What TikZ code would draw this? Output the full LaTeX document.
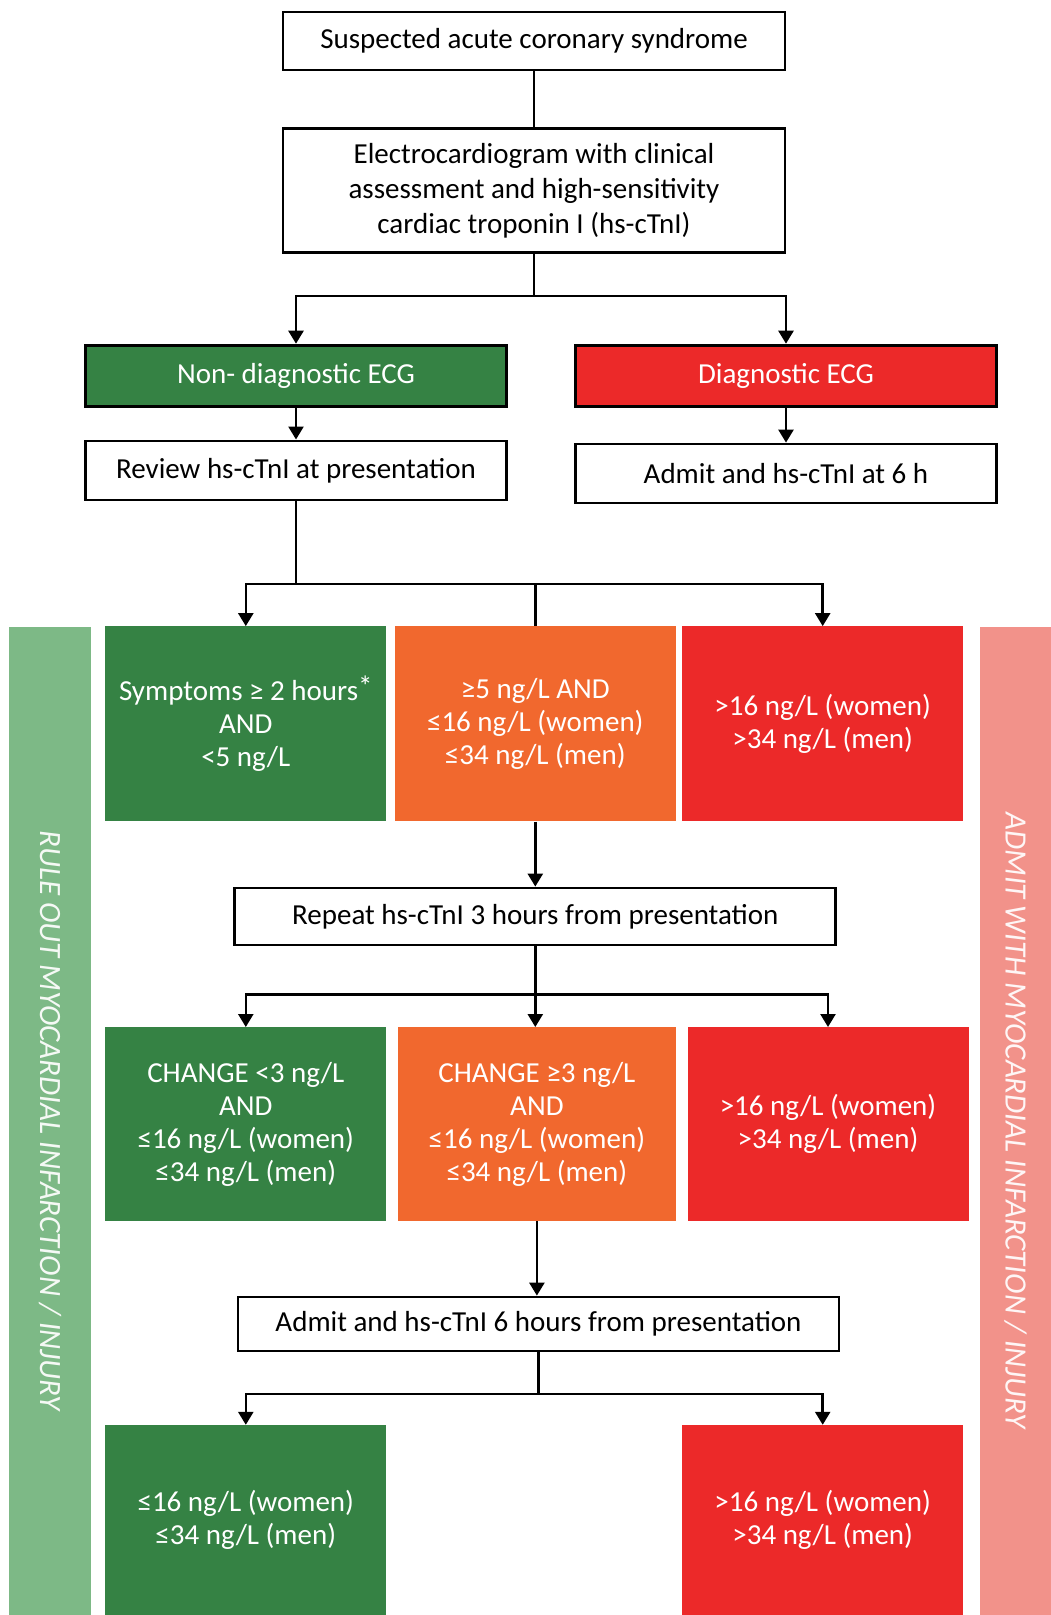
\documentclass[tikz,border=0pt]{standalone}
\usepackage{fontspec}
\setmainfont{Carlito}
\usetikzlibrary{arrows.meta}
\definecolor{dgreen}{RGB}{53,130,68}
\definecolor{orangeC}{RGB}{241,104,46}
\definecolor{redC}{RGB}{236,41,41}
\definecolor{lgreen}{RGB}{125,185,134}
\definecolor{pinkC}{RGB}{242,146,138}
\begin{document}
\begin{tikzpicture}[x=1pt,y=-1pt,
  wbox/.style={draw=black,line width=2.8pt,fill=white,align=center,inner sep=0pt,
    font=\fontsize{29}{35}\selectfont},
  hbox/.style={draw=black,line width=2.8pt,fill=#1,text=white,align=center,inner sep=0pt,
    font=\fontsize{29}{35}\selectfont,minimum width=421pt,minimum height=61pt},
  cbox/.style={fill=#1,text=white,align=center,inner sep=0pt,
    font=\fontsize{29}{33}\selectfont,minimum width=281pt,minimum height=195pt},
  sidebar/.style={fill=#1,text=white!92!#1,rotate=-90,inner sep=0pt,
    font=\fontsize{31}{36}\selectfont\itshape},
  ln/.style={line width=2.5pt},
  arr/.style={line width=2.5pt,-{Triangle[width=15pt,length=13pt]}}]
\useasboundingbox (0,0) rectangle (1051,1615);

% side bars
\node[sidebar=lgreen,minimum width=988.5pt,minimum height=81.4pt] (sbl) at (50,1120.75)
  {RULE OUT MYOCARDIAL INFARCTION / INJURY};
\node[sidebar=pinkC,minimum width=988.5pt,minimum height=71pt] (sbr) at (1015.5,1120.75)
  {ADMIT WITH MYOCARDIAL INFARCTION / INJURY};

% top boxes
\node[wbox,minimum width=502pt,minimum height=58pt] (b1) at (534,41)
  {Suspected acute coronary syndrome};
\node[wbox,minimum width=502pt,minimum height=124pt] (b2) at (534,190.6)
  {Electrocardiogram with clinical\\assessment and high-sensitivity\\cardiac troponin I (hs-cTnI)};
\node[hbox=dgreen] (nd) at (296,375.6) {Non- diagnostic ECG};
\node[hbox=redC] (dg) at (786,375.6) {Diagnostic ECG};
\node[wbox,minimum width=421pt,minimum height=59pt] (rv) at (296,470.4)
  {Review hs-cTnI at presentation};
\node[wbox,minimum width=421pt,minimum height=59pt] (ad) at (786,473.5)
  {Admit and hs-cTnI at 6 h};

% row 1
\node[cbox=dgreen] (g1) at (245.8,723.8) {Symptoms ≥ 2 hours\raisebox{0.15em}{*}\\AND\\<5 ng/L};
\node[cbox=orangeC] (o1) at (535.3,723.8) {≥5 ng/L AND\\≤16 ng/L (women)\\≤34 ng/L (men)};
\node[cbox=redC] (r1) at (822.7,723.8) {>16 ng/L (women)\\>34 ng/L (men)};

\node[wbox,minimum width=601pt,minimum height=57pt] (rp) at (535.3,916.5)
  {Repeat hs-cTnI 3 hours from presentation};

% row 2
\node[cbox=dgreen,minimum height=194pt] (g2) at (245.8,1124.2)
  {CHANGE <3 ng/L\\AND\\≤16 ng/L (women)\\≤34 ng/L (men)};
\node[cbox=orangeC,minimum width=278pt,minimum height=194pt] (o2) at (536.9,1124.2)
  {CHANGE ≥3 ng/L\\AND\\≤16 ng/L (women)\\≤34 ng/L (men)};
\node[cbox=redC,minimum height=194pt] (r2) at (828,1124.2) {>16 ng/L (women)\\>34 ng/L (men)};

\node[wbox,minimum width=601pt,minimum height=54pt] (adm) at (538.5,1324)
  {Admit and hs-cTnI 6 hours from presentation};

% row 3
\node[cbox=dgreen,minimum height=190pt] (g3) at (245.8,1520) {≤16 ng/L (women)\\≤34 ng/L (men)};
\node[cbox=redC,minimum height=190pt] (r3) at (822.7,1520) {>16 ng/L (women)\\>34 ng/L (men)};

% junctions
\coordinate (j1) at (534,296);
\coordinate (j2) at (296,584.2);
\coordinate (j2m) at (535.3,584.2);
\coordinate (j3) at (535.3,994.3);
\coordinate (j4) at (538.5,1394.1);

% connectors
\draw[ln] (b1) -- (b2);
\draw[ln] (b2) -- (j1);
\draw[arr] (j1) -| (nd);
\draw[arr] (j1) -| (dg);
\draw[arr] (nd) -- (rv);
\draw[arr] (dg) -- (ad);
\draw[ln] (rv) -- (j2);
\draw[arr] (j2) -| (g1);
\draw[arr] (j2) -| (r1);
\draw[ln] (j2m) -- (o1);
\draw[arr] (o1) -- (rp);
\draw[ln] (rp) -- (j3);
\draw[arr] (j3) -| (g2);
\draw[arr] (j3) -| (r2);
\draw[arr] (j3) -- (j3 |- o2.north);
\draw[arr] (o2.south) -- (o2.south |- adm.north);
\draw[ln] (adm) -- (j4);
\draw[arr] (j4) -| (g3);
\draw[arr] (j4) -| (r3);
\end{tikzpicture}
\end{document}
